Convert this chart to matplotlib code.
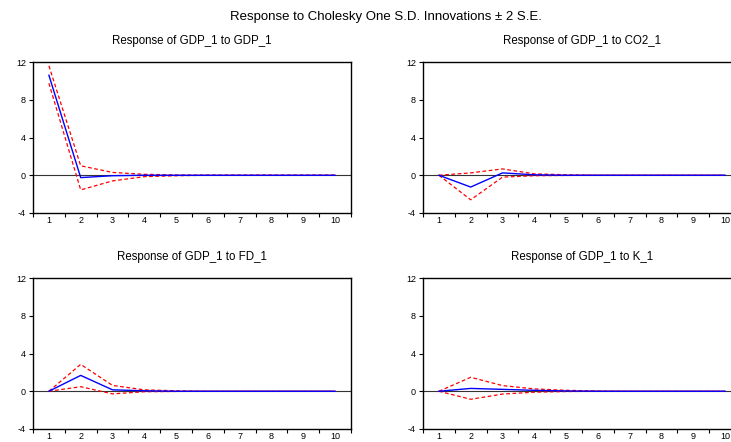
import matplotlib
matplotlib.use('Agg')
import matplotlib.pyplot as plt
import numpy as np

plt.rcParams['font.family'] = ['Liberation Sans', 'DejaVu Sans']
plt.rcParams['axes.unicode_minus'] = False

periods = list(range(1, 11))
titles = ['Response of GDP_1 to GDP_1', 'Response of GDP_1 to CO2_1',
          'Response of GDP_1 to FD_1', 'Response of GDP_1 to K_1']

# impulse responses with +/- 2 S.E. bands
resp_gdp = [10.6, -0.25, -0.05, 0.0, 0.0, 0.0, 0.0, 0.0, 0.0, 0.0]
upper_gdp = [11.6, 1.0, 0.3, 0.1, 0.03, 0.0, 0.0, 0.0, 0.0, 0.0]
lower_gdp = [9.75, -1.55, -0.6, -0.15, -0.05, 0.0, 0.0, 0.0, 0.0, 0.0]

resp_co2 = [0.0, -1.25, 0.25, 0.05, 0.0, 0.0, 0.0, 0.0, 0.0, 0.0]
upper_co2 = [0.0, 0.25, 0.67, 0.15, 0.05, 0.0, 0.0, 0.0, 0.0, 0.0]
lower_co2 = [0.0, -2.6, -0.2, -0.05, -0.02, 0.0, 0.0, 0.0, 0.0, 0.0]

resp_fd = [0.0, 1.68, 0.15, 0.05, 0.0, 0.0, 0.0, 0.0, 0.0, 0.0]
upper_fd = [0.0, 2.85, 0.62, 0.15, 0.05, 0.0, 0.0, 0.0, 0.0, 0.0]
lower_fd = [0.0, 0.48, -0.28, -0.05, -0.02, 0.0, 0.0, 0.0, 0.0, 0.0]

resp_k = [0.0, 0.3, 0.2, 0.1, 0.03, 0.0, 0.0, 0.0, 0.0, 0.0]
upper_k = [0.0, 1.48, 0.6, 0.25, 0.1, 0.03, 0.0, 0.0, 0.0, 0.0]
lower_k = [0.0, -0.85, -0.3, -0.1, -0.03, 0.0, 0.0, 0.0, 0.0, 0.0]

panels = [(resp_gdp, upper_gdp, lower_gdp), (resp_co2, upper_co2, lower_co2),
          (resp_fd, upper_fd, lower_fd), (resp_k, upper_k, lower_k)]

W, H = 731, 442
fig = plt.figure(figsize=(W / 100, H / 100), dpi=100)

# axes boxes in pixels: left, top, width, height (right column runs off the image)
boxes = [(33, 62, 318, 151), (423, 62, 318, 151),
         (33, 278, 318, 151), (423, 278, 318, 151)]

for (l, t, w, h), title, (resp, up, lo) in zip(boxes, titles, panels):
    ax = fig.add_axes([l / W, 1 - (t + h) / H, w / W, h / H])
    ax.axhline(0, color='#333333', lw=0.8, zorder=1)
    ax.plot(periods, up, color='#FF0000', lw=0.9, ls=(0, (3, 2)), zorder=2)
    ax.plot(periods, lo, color='#FF0000', lw=0.9, ls=(0, (3, 2)), zorder=2)
    ax.plot(periods, resp, color='#0000FF', lw=1.0, zorder=3)
    ax.set_xlim(0.5, 10.5)
    ax.set_ylim(-4, 12)
    ax.set_yticks([-4, 0, 4, 8, 12])
    ax.set_xticks(periods)
    ax.set_xticks(np.arange(0.5, 11, 1), minor=True)
    ax.tick_params(axis='x', which='major', length=0, labelsize=6.5, pad=2)
    ax.tick_params(axis='x', which='minor', length=3, width=0.8, direction='out')
    ax.tick_params(axis='y', length=3, width=0.8, direction='out', labelsize=6.5, pad=2)
    for s in ax.spines.values():
        s.set_linewidth(1.0)
    ax.set_title(title, fontsize=8.3, pad=13)

fig.text(386 / W, 1 - 17 / H, 'Response to Cholesky One S.D. Innovations \u00b1 2 S.E.',
         ha='center', va='center', fontsize=9.5)

fig.savefig('out.png', dpi=100)
